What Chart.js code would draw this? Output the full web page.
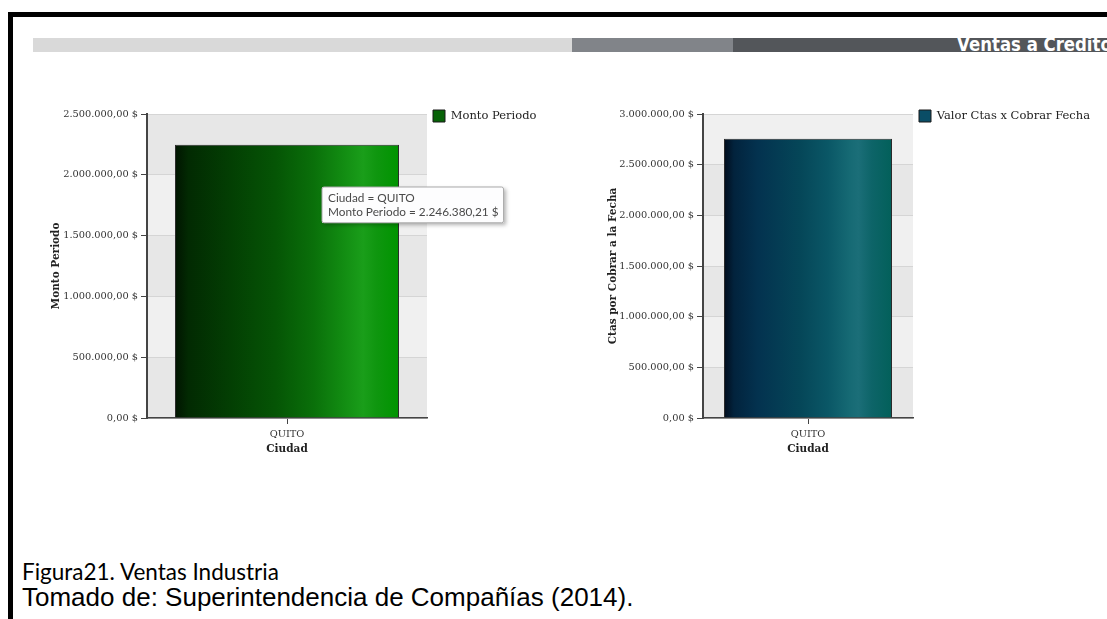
<!DOCTYPE html>
<html>
<head>
<meta charset="utf-8">
<script src="https://cdn.jsdelivr.net/npm/chart.js@4.4.1/dist/chart.umd.min.js"></script>
<style>
html,body{margin:0;padding:0;background:#fff;width:1107px;height:619px;overflow:hidden;position:relative;}
#frame{position:absolute;left:8px;top:12px;width:1200px;height:700px;border-left:5px solid #000;border-top:5px solid #000;}
.hbar{position:absolute;top:38px;height:14px;}
#b1{left:33px;width:539px;background:#d9d9d9;}
#b2{left:572px;width:161px;background:#818489;}
#b3{left:733px;width:400px;background:#53565a;overflow:hidden;}
#htxt{position:absolute;right:21px;top:-3px;font:bold 19px/19px 'DejaVu Sans',sans-serif;color:#fff;white-space:nowrap;transform:scaleX(0.87);transform-origin:right center;}
canvas{position:absolute;}
#c1{left:20px;top:90px;}
#c2{left:590px;top:90px;}
.cap{position:absolute;left:22px;white-space:nowrap;color:#000;}
#cap1{top:561px;font:22.5px/22.5px Lato,sans-serif;}
#cap2{top:584px;font:26px/26px 'Liberation Sans',Arial,sans-serif;}
</style>
</head>
<body>
<div id="frame"></div>
<div class="hbar" id="b1"></div>
<div class="hbar" id="b2"></div>
<div class="hbar" id="b3"><div id="htxt">Ventas a Credito</div></div>
<canvas id="c1" width="540" height="380"></canvas>
<canvas id="c2" width="517" height="380"></canvas>
<div class="cap" id="cap1">Figura21. Ventas Industria</div>
<div class="cap" id="cap2">Tomado de: Superintendencia de Compañías (2014).</div>
<script>
// ---- data ----
const categories = ['QUITO'];
const montoPeriodo = [2246380.21];
const valorCtasCobrar = [2755000];
const montoTicks = [0, 500000, 1000000, 1500000, 2000000, 2500000];
const ctasTicks = [0, 500000, 1000000, 1500000, 2000000, 2500000, 3000000];

function fmt(v) {
  const neg = v < 0; v = Math.abs(v);
  let [i, d] = v.toFixed(2).split('.');
  i = i.replace(/\B(?=(\d{3})+(?!\d))/g, '.');
  return (neg ? '-' : '') + i + ',' + d + ' $';
}

const serif = "'DejaVu Serif',serif";
const tickFont = {family: serif, size: 9.8};
const titleFont = {family: serif, size: 10.5, weight: 'bold', lineHeight: 1.3};
const legendFont = {family: serif, size: 11.5};

const greenStops = [[0,'#011401'],[0.06,'#022a02'],[0.25,'#033f03'],[0.45,'#055505'],[0.62,'#0a700a'],[0.75,'#128c12'],[0.84,'#1a9e1a'],[0.9,'#0f960f'],[1,'#009400']];
const tealStops = [[0,'#010c1c'],[0.06,'#02233d'],[0.2,'#03324f'],[0.45,'#054658'],[0.62,'#0a5766'],[0.75,'#166a74'],[0.8,'#1b6e78'],[0.88,'#0d6468'],[1,'#02605a']];

function barGradient(stops) {
  return function(ctx) {
    const chart = ctx.chart;
    const x = chart.scales.x;
    if (!chart.chartArea || !x) return stops[3][1];
    const w = (chart.chartArea.right - chart.chartArea.left) / categories.length * 0.8;
    const cx = x.getPixelForValue(ctx.dataIndex || 0);
    const g = chart.ctx.createLinearGradient(cx - w / 2, 0, cx + w / 2, 0);
    stops.forEach(s => g.addColorStop(s[0], s[1]));
    return g;
  };
}

const bandsPlugin = {
  id: 'bands',
  beforeDraw(chart) {
    const {ctx, chartArea: a, scales: {y}} = chart;
    const t = y.ticks;
    ctx.save();
    for (let i = 0; i < t.length - 1; i++) {
      const y0 = y.getPixelForValue(t[i].value), y1 = y.getPixelForValue(t[i + 1].value);
      ctx.fillStyle = i % 2 === 0 ? '#e7e7e7' : '#f0f0f0';
      ctx.fillRect(a.left, y1, a.right - a.left, y0 - y1);
    }
    ctx.restore();
  }
};

const shadowPlugin = {
  id: 'tipShadow',
  beforeTooltipDraw(chart, args) {
    const t = args.tooltip;
    if (!t.opacity) return;
    const ctx = chart.ctx;
    ctx.save();
    ctx.shadowColor = 'rgba(0,0,0,0.3)';
    ctx.shadowBlur = 4;
    ctx.shadowOffsetX = 2;
    ctx.shadowOffsetY = 2;
    ctx.fillStyle = '#fff';
    ctx.fillRect(t.x, t.y, t.width, t.height);
    ctx.restore();
  }
};

Chart.Tooltip.positioners.fixedPos = function() { return {x: 304, y: 97}; };

function makeChart(id, cfg) {
  const canvas = document.getElementById(id);
  const chart = new Chart(canvas, {
    type: 'bar',
    data: {
      labels: categories,
      datasets: [{
        label: cfg.label, data: cfg.data,
        backgroundColor: barGradient(cfg.stops),
        borderColor: '#2b2b2b', borderWidth: 1,
        barPercentage: 0.8, categoryPercentage: 1
      }]
    },
    options: {
      responsive: false, animation: false, events: [],
      layout: {padding: {left: cfg.padLeft, top: 14, right: 0, bottom: 12}},
      scales: {
        x: {
          grid: {display: true, drawOnChartArea: false, drawTicks: true, tickLength: 6, tickColor: '#444', offset: false},
          border: {display: true, color: '#444', width: 1.5},
          ticks: {padding: 5, color: '#333', font: tickFont},
          title: {display: true, text: 'Ciudad', color: '#222', font: titleFont, padding: {top: 0, bottom: 2}},
          afterFit(s) { s.height = 40; }
        },
        y: {
          min: cfg.ticks[0], max: cfg.ticks[cfg.ticks.length - 1],
          grid: {color: '#d5d5d5', lineWidth: 1, tickLength: 6, tickColor: '#444'},
          border: {color: '#444', width: 2},
          ticks: {padding: 3, color: '#333', font: tickFont, callback: v => fmt(v)},
          afterBuildTicks(s) { s.ticks = cfg.ticks.map(v => ({value: v})); },
          title: {display: true, text: cfg.yTitle, color: '#222', font: titleFont, padding: 0},
          afterFit(s) { s.width = cfg.yWidth; }
        }
      },
      plugins: {
        title: {display: true, text: '', fullSize: false, padding: 0, font: {size: 10, lineHeight: 1}},
        legend: {
          position: 'right', align: 'start', maxWidth: 400,
          labels: {
            padding: 6, boxWidth: 12, boxHeight: 12, color: '#222', font: legendFont,
            generateLabels: ch => ch.data.datasets.map((ds, i) => ({
              text: ds.label, fillStyle: cfg.legendColor, strokeStyle: '#1a1a1a', lineWidth: 1,
              hidden: false, datasetIndex: i, fontColor: '#222'
            }))
          }
        },
        tooltip: cfg.tooltip ? {
          enabled: true, position: 'fixedPos', xAlign: 'left', yAlign: 'top',
          caretSize: 0, caretPadding: 0, cornerRadius: 2,
          backgroundColor: '#fdfdfe', borderColor: '#a9a9a9', borderWidth: 1,
          padding: {top: 4, bottom: 3, left: 6, right: 5},
          titleColor: '#4a4a4a', bodyColor: '#4a4a4a',
          titleFont: {family: 'Lato', size: 11.8, weight: 'normal', lineHeight: 1.22},
          bodyFont: {family: 'Lato', size: 11.8, weight: 'normal', lineHeight: 1.22},
          titleMarginBottom: 0, displayColors: false,
          callbacks: {
            title: items => 'Ciudad = ' + items[0].label,
            label: item => item.dataset.label + ' = ' + fmt(item.parsed.y)
          }
        } : {enabled: false}
      }
    },
    plugins: [bandsPlugin, shadowPlugin]
  });
  for (let k = 0; k < 10; k++) {
    const dx = chart.chartArea.right - cfg.targetRight;
    if (Math.abs(dx) < 0.25) break;
    chart.options.layout.padding.right += dx;
    chart.update();
  }
  return chart;
}

const chart1 = makeChart('c1', {
  label: 'Monto Periodo', data: montoPeriodo, stops: greenStops, ticks: montoTicks,
  yTitle: 'Monto Periodo', padLeft: 29, yWidth: 98, targetRight: 407,
  legendColor: '#076207', tooltip: true
});
const chart2 = makeChart('c2', {
  label: 'Valor Ctas x Cobrar Fecha', data: valorCtasCobrar, stops: tealStops, ticks: ctasTicks,
  yTitle: 'Ctas por Cobrar a la Fecha', padLeft: 16, yWidth: 97, targetRight: 323,
  legendColor: '#0a4d66', tooltip: false
});
chart1.tooltip.setActiveElements([{datasetIndex: 0, index: 0}], {x: 300, y: 100});
chart1.update();
</script>
</body>
</html>
